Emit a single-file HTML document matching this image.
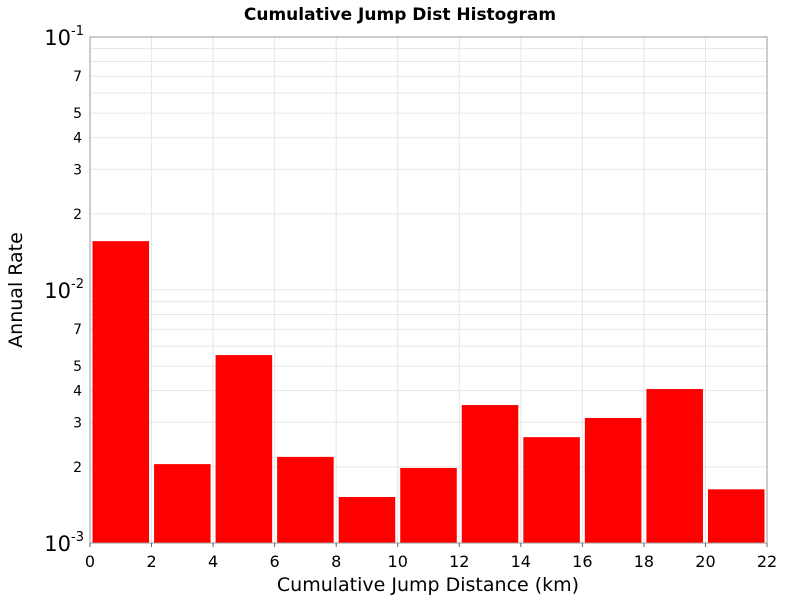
<!DOCTYPE html>
<html><head><meta charset="utf-8"><style>
body{margin:0;background:#fff;font-family:"DejaVu Sans","Liberation Sans",sans-serif;}
</style></head><body>
<svg id="chart" width="800" height="600" xmlns="http://www.w3.org/2000/svg">
<rect width="800" height="600" fill="#fff"/>
<text x="400" y="20" text-anchor="middle" font-weight="bold" font-size="17" font-family="DejaVu Sans, Liberation Sans, sans-serif">Cumulative Jump Dist Histogram</text>
<g id="grid"></g>
<g id="bars"></g>
<rect x="90" y="37" width="677" height="506" fill="none" stroke="#999" stroke-width="1"/>
<g id="axes"></g>
<text x="428" y="591" text-anchor="middle" font-size="19">Cumulative Jump Distance (km)</text>
<text transform="translate(22,290) rotate(-90)" text-anchor="middle" font-size="19">Annual Rate</text>
</svg>
<script>
const binStarts=[0,2,4,6,8,10,12,14,16,18,20];
const binWidth=2;
const rates=[0.0156,0.00205,0.00553,0.00219,0.00152,0.00198,0.00351,0.00262,0.00312,0.00406,0.00163];
const xTicks=[0,2,4,6,8,10,12,14,16,18,20,22];
const yMinorLabels=[2,3,4,5,7];
const yDecades=[-3,-2,-1];

const X0=90,X1=767,Y0=543,Y1=37;
const xs=v=>X0+(v-0)/(22-0)*(X1-X0);
const ys=v=>Y0-(Math.log10(v)+3)/2*(Y0-Y1);
const NS="http://www.w3.org/2000/svg";
function mk(tag,attrs,parent){const e=document.createElementNS(NS,tag);for(const k in attrs)e.setAttribute(k,attrs[k]);parent.appendChild(e);return e;}
const grid=document.getElementById('grid'),bars=document.getElementById('bars'),axes=document.getElementById('axes');

xTicks.forEach(t=>{
  const l=mk('line',{x1:xs(t),x2:xs(t),y1:Y1,y2:Y0,stroke:'#e6e6e6'},grid);
  
  const tk=mk('line',{x1:xs(t),x2:xs(t),y1:Y0,y2:Y0+4,stroke:'#666'},axes);
  
  const tx=mk('text',{x:xs(t),y:Y0+24,'text-anchor':'middle','font-size':'16'},axes);
  tx.textContent=t;
  
});
[-3,-2].forEach(d=>{
  for(let m=1;m<=9;m++){
    const v=m*Math.pow(10,d);const y=ys(v);
    const l=mk('line',{x1:X0,x2:X1,y1:y,y2:y,stroke:'#e6e6e6'},grid);
    
    if(yMinorLabels.includes(m)){
      const tx=mk('text',{x:X0-8,y:y+5,'text-anchor':'end','font-size':'14'},axes);
      tx.textContent=m;
      
    }
  }
});
yDecades.forEach(d=>{
  const y=ys(Math.pow(10,d));
  const tx=mk('text',{x:X0-6,y:y+8,'text-anchor':'end','font-size':'21'},axes);
  tx.innerHTML='10<tspan font-size="13" dy="-10">'+d+'</tspan>';
  
});
binStarts.forEach((s,i)=>{
  const xa=xs(s)+2.5,xb=xs(s+binWidth)-2.5,y=ys(rates[i]);
  const r=mk('rect',{x:xa,y:y,width:xb-xa,height:Y0-y,fill:'#ff0000'},bars);
  
});
</script>
</body></html>
